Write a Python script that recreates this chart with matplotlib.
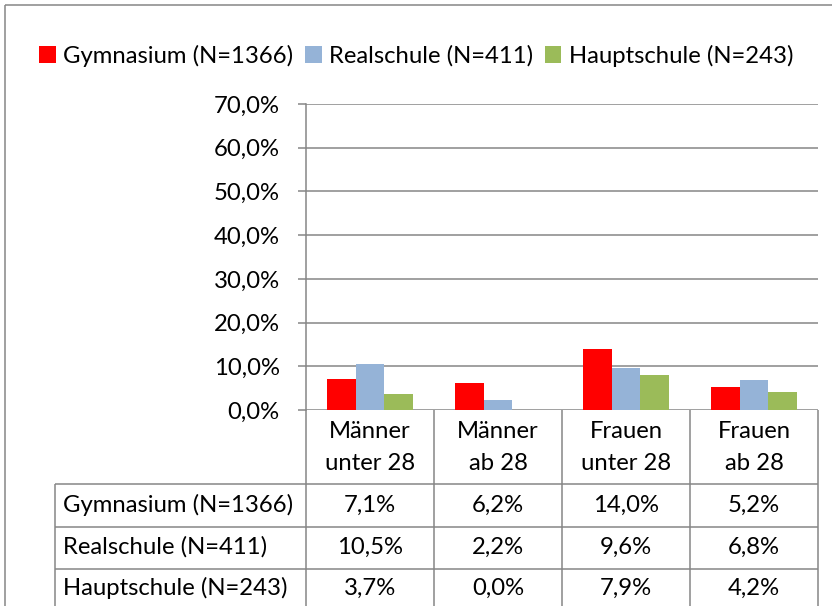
import numpy as np
import matplotlib.pyplot as plt
from matplotlib.transforms import blended_transform_factory

# ---------------------------------------------
# DATA
# ---------------------------------------------
categories = ['Männer\nunter 28', 'Männer\nab 28', 'Frauen\nunter 28', 'Frauen\nab 28']
series = ['Gymnasium (N=1366)', 'Realschule (N=411)', 'Hauptschule (N=243)']
gymnasium = [7.1, 6.2, 14.0, 5.2]
realschule = [10.5, 2.2, 9.6, 6.8]
hauptschule = [3.7, 0.0, 7.9, 4.2]
colors = ['#FF0000', '#95B3D7', '#9BBB59']
yticks = [0, 10, 20, 30, 40, 50, 60, 70]

values = [gymnasium, realschule, hauptschule]

W, H = 832, 606
GRID = '#868686'
FS = 17.2

plt.rcParams['font.family'] = ['Lato', 'DejaVu Sans']


def fx(x):
    return x / W


def fy(y):
    return 1 - y / H


def pct(v):
    return f'{v:.1f}%'.replace('.', ',')


fig = plt.figure(figsize=(W / 100, H / 100), dpi=100)

# background axes in pixel coordinates (border, table)
bg = fig.add_axes([0, 0, 1, 1])
bg.set_xlim(0, W)
bg.set_ylim(H, 0)
bg.axis('off')

# ---------------------------------------------
# BAR CHART
# ---------------------------------------------
ax = fig.add_axes([fx(306), fy(410), fx(818) - fx(306), fy(104) - fy(410)])
x = np.arange(len(categories))
bw = 0.222
for i, (name, vals, c) in enumerate(zip(series, values, colors)):
    ax.bar(x + (i - 1) * bw, vals, bw, color=c, label=name, zorder=3)

ax.set_xlim(-0.5, len(categories) - 0.5)
ax.set_ylim(0, 70)
ax.set_yticks(yticks)
ax.set_yticklabels([pct(t) for t in yticks], fontsize=FS)
ax.set_xticks([])
ax.yaxis.grid(True, color=GRID, lw=1.1)
ax.set_axisbelow(True)
for s in ['top', 'right', 'bottom']:
    ax.spines[s].set_visible(False)
ax.spines['left'].set_color(GRID)
ax.spines['left'].set_linewidth(1.1)
ax.tick_params(axis='y', length=6, color=GRID, width=1.1, pad=13)

# legend
fig.legend(loc='center', bbox_to_anchor=(fx(416), fy(56)), ncol=3, frameon=False,
           fontsize=FS, handlelength=0.7, handleheight=0.7, handletextpad=0.3,
           columnspacing=0.5, borderpad=0)

# ---------------------------------------------
# DATA TABLE
# ---------------------------------------------
tr = blended_transform_factory(ax.transData, bg.transData)
lkw = dict(color=GRID, lw=1.1, solid_capstyle='butt')

# vertical separators of the category columns
for xs in np.arange(len(categories) + 1) - 0.5:
    bg.plot([xs, xs], [410, H], transform=tr, **lkw)
# left edge of row labels
bg.plot([55, 55], [484, H], **lkw)
# horizontal row lines
for yl in [484, 527, 569]:
    bg.plot([55, 818], [yl, yl], **lkw)

# category headers, one text per line
for i, cat in enumerate(categories):
    for line, yl in zip(cat.split('\n'), [432, 463]):
        bg.text(i, yl, line, transform=tr, ha='center', va='center', fontsize=FS)

# rows
row_y = [505, 547, 588]
for name, vals, yr in zip(series, values, row_y):
    bg.text(63, yr, name, ha='left', va='center', fontsize=FS)
    for i, v in enumerate(vals):
        bg.text(i, yr, pct(v), transform=tr, ha='center', va='center', fontsize=FS)

# outer chart border (cropped)
bg.plot([5, 5], [5, H], **lkw)
bg.plot([5, W], [5, 5], **lkw)

fig.savefig('out.png', dpi=100)
